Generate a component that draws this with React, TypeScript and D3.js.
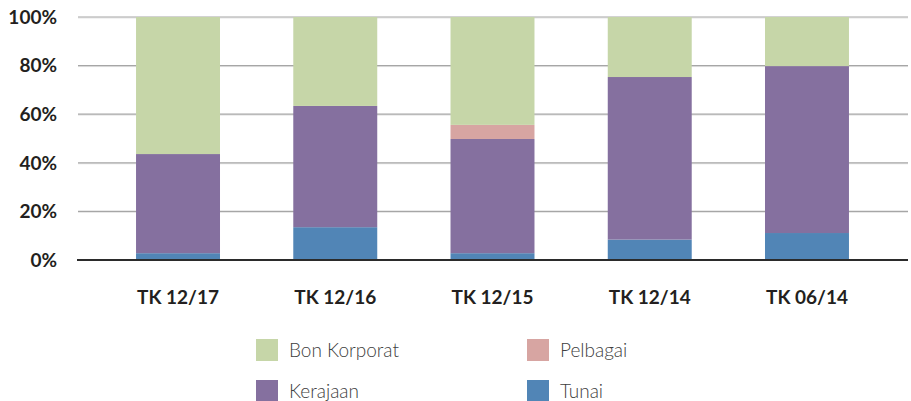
import React from 'react';
import * as d3 from 'd3';

const periods = ['TK 12/17', 'TK 12/16', 'TK 12/15', 'TK 12/14', 'TK 06/14'];
const tunai = [2.8, 13.5, 2.8, 8.4, 11.1];
const kerajaan = [40.8, 49.9, 47.0, 66.9, 68.7];
const pelbagai = [0, 0, 5.8, 0, 0];
const bonKorporat = [56.4, 36.6, 44.4, 24.7, 20.2];
const yTicks = [0, 20, 40, 60, 80, 100];

const seriesNames = ['Tunai', 'Kerajaan', 'Pelbagai', 'Bon Korporat'];
const seriesColors = ['#5185b6', '#85709f', '#d7a5a2', '#c6d6a8'];
const legendOrder = ['Bon Korporat', 'Pelbagai', 'Kerajaan', 'Tunai'];

const W = 911;
const H = 401;

const App = () => {
  const rows = periods.map((p, i) => ({
    period: p,
    Tunai: tunai[i],
    Kerajaan: kerajaan[i],
    Pelbagai: pelbagai[i],
    'Bon Korporat': bonKorporat[i],
  }));

  const stacked = d3.stack<any>().keys(seriesNames)(rows);

  const x = d3.scaleBand()
    .domain(periods)
    .range([99.4, 885.6])
    .paddingInner(0.466)
    .paddingOuter(0.233);

  const y = d3.scaleLinear().domain([0, 100]).range([260, 17]);

  const color = d3.scaleOrdinal<string>().domain(seriesNames).range(seriesColors);

  const gridLeft = 78;
  const gridRight = 908;

  return (
    <svg width={W} height={H} style={{ position: 'absolute', left: 0, top: 0 }}
      fontFamily="Lato, 'Open Sans', sans-serif">
      {/* gridlines */}
      {yTicks.filter(t => t > 0).map(t => (
        <g key={t}>
          <line x1={gridLeft} x2={gridRight} y1={y(t) + 1} y2={y(t) + 1} stroke="#e6e6e6" strokeWidth={1} />
          <line x1={gridLeft} x2={gridRight} y1={y(t)} y2={y(t)} stroke="#a6a6a6" strokeWidth={1.2} />
        </g>
      ))}

      {/* bars */}
      {stacked.map(s => (
        <g key={s.key} fill={color(s.key)}>
          {s.map((d, i) => (
            d[1] - d[0] > 0 ? (
              <rect key={i}
                x={x(periods[i])}
                y={y(d[1])}
                width={x.bandwidth()}
                height={y(d[0]) - y(d[1])} />
            ) : null
          ))}
        </g>
      ))}

      {/* zero axis */}
      <line x1={gridLeft - 1} x2={gridRight} y1={y(0)} y2={y(0)} stroke="#2b2b2b" strokeWidth={2.2} />

      {/* y labels */}
      {yTicks.map(t => (
        <text key={t} x={57} y={y(t)} dy="0.36em" textAnchor="end"
          fontSize={19} fontWeight={700} fill="#231f20">{t}%</text>
      ))}

      {/* x labels */}
      {periods.map(p => (
        <text key={p} x={(x(p) as number) + x.bandwidth() / 2} y={304} textAnchor="middle"
          fontSize={19} fontWeight={700} fill="#231f20">{p}</text>
      ))}

      {/* legend */}
      {legendOrder.map((name, i) => {
        const col = i % 2;
        const row = Math.floor(i / 2);
        const lx = col === 0 ? 256 : 527;
        const ly = row === 0 ? 339 : 380;
        return (
          <g key={name} transform={`translate(${lx},${ly})`}>
            <rect width={22} height={22} fill={color(name)} />
            <text x={33} y={18} fontSize={19} fontWeight={300} fill="#404040">{name}</text>
          </g>
        );
      })}
    </svg>
  );
};

export default App;
